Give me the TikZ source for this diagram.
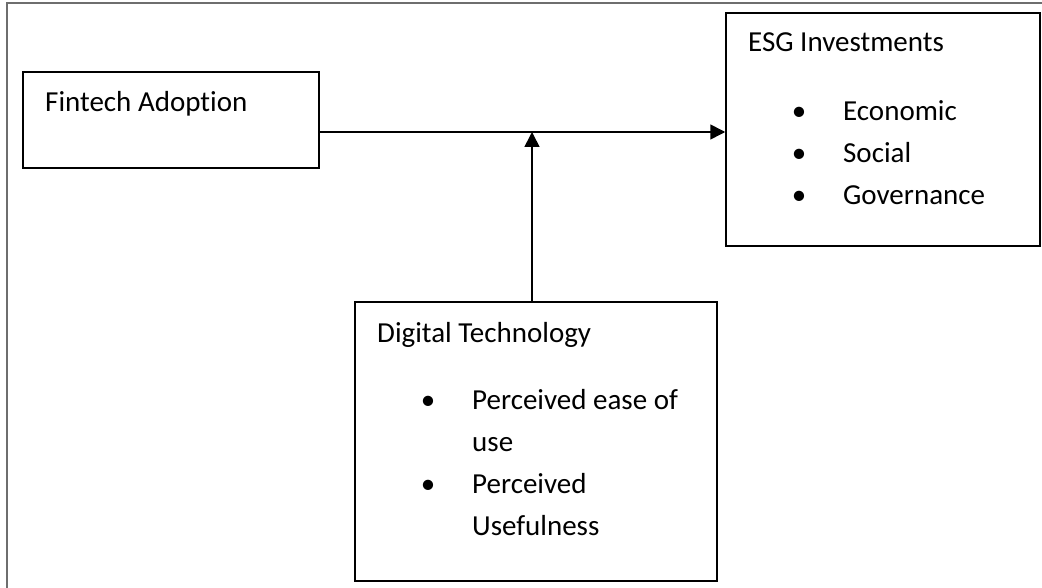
\documentclass[tikz,border=0pt]{standalone}
\usepackage{fontspec}
\setmainfont{Carlito}[Ligatures=NoCommon]
\usetikzlibrary{positioning,arrows.meta}
\definecolor{framegray}{RGB}{110,110,110}
\newcommand{\itembul}{\llap{\textbullet\hspace{37pt}}}

\begin{document}
\begin{tikzpicture}[x=1pt,y=-1pt,
  box/.style={draw,line width=1.5pt,inner sep=0pt},
  lbl/.style={anchor=base west,inner sep=0pt,font=\fontsize{29}{42}\selectfont},
  itm/.style={lbl,align=left},
  link/.style={line width=1.6pt,-{Triangle[length=15pt,width=15pt]}}]
  \useasboundingbox (0,0) rectangle (1042,588);
  % frame (left and top edges only)
  \draw[framegray,line width=2pt] (7,588) -- (7,3) -- (1042,3);
  % boxes
  \node[box,minimum width=296pt,minimum height=96pt] (fintech) at (171,120) {};
  \node[box,minimum width=314pt,minimum height=233pt] (esg) at (883,129.5) {};
  \node[box,minimum width=362pt,minimum height=279pt] (digital) at (536,441.5) {};
  % texts (multi-line nodes sit on their last line)
  \node[lbl] (fintechtxt) at (45,112) {Fintech Adoption};
  \node[lbl] (esgtxt) at (748,52) {ESG Investments};
  \node[lbl] (econ) at (843,121) {\itembul Economic};
  \node[lbl] (social) at (843,163) {\itembul Social};
  \node[lbl] (gov) at (843,205) {\itembul Governance};
  \node[lbl] (digitaltxt) at (377,342) {Digital Technology};
  \node[itm] (ease) at (472,451) {\itembul Perceived ease of\\use};
  \node[itm] (useful) at (472,535) {\itembul Perceived\\Usefulness};
  % arrows
  \coordinate (join) at (532,132);
  \draw[link] (fintech.east |- join) -- (esg.west |- join);
  \draw[link] (digital.north -| join) -- (join);
\end{tikzpicture}
\end{document}
